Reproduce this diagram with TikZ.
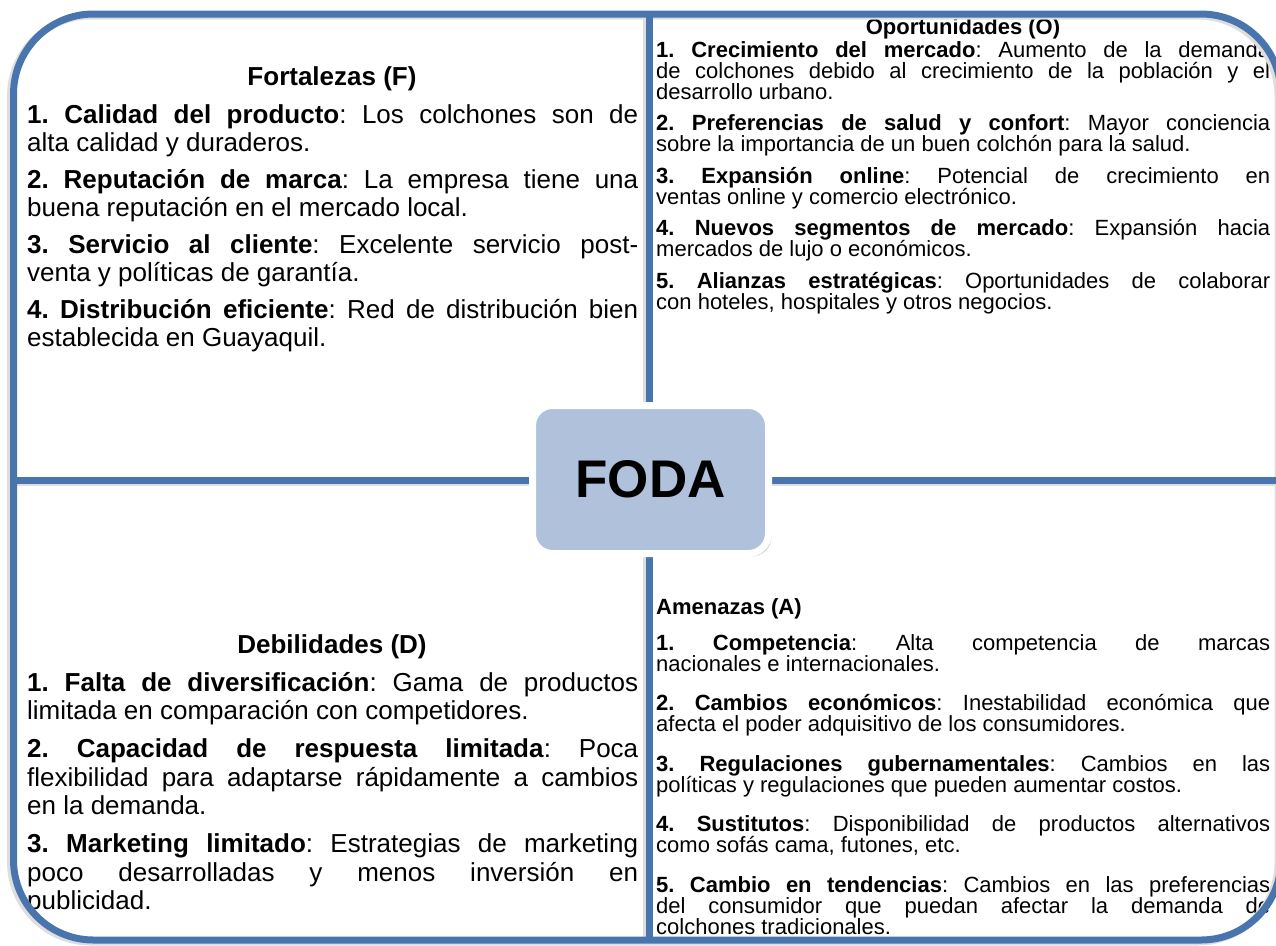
\documentclass[tikz,border=0pt]{standalone}
\usepackage{fontspec}
\setmainfont{Liberation Sans}
\usetikzlibrary{shadows}
\definecolor{fodaline}{RGB}{72,117,173}
\definecolor{fodafill}{RGB}{176,193,220}
\newcommand{\fodapar}[1]{\frenchspacing\tolerance=10000 \hyphenpenalty=10000 \parskip=#1pt\relax}
\tikzset{
	frame/.style={draw=fodaline, line width=7pt},
	frameshadow/.style={draw=black!13, line width=7pt, xshift=-3pt, yshift=-2pt},
	bigtext/.style={anchor=base west, inner sep=0pt, text width=611pt, align=justify, font=\fontsize{26}{28.5}\selectfont},
	smalltext/.style={anchor=base west, inner sep=0pt, text width=614pt, align=justify, font=\fontsize{22}{21}\selectfont},
	bigtitle/.style={anchor=base, inner sep=0pt, font=\fontsize{26}{28.5}\selectfont\bfseries},
	smalltitle/.style={inner sep=0pt, font=\fontsize{22}{21}\selectfont\bfseries},
	fodabox/.style={rounded corners=20pt, fill=fodafill, draw=white, line width=7pt, minimum width=236pt, minimum height=148pt, inner sep=0pt, font=\fontsize{53}{60}\selectfont\bfseries, drop shadow={shadow xshift=3pt, shadow yshift=-3pt, fill=black, opacity=0.25}}
}

\begin{document}
\begin{tikzpicture}[x=1pt, y=-1pt]
	\useasboundingbox (0,0) rectangle (1276,945);
	\node[bigtitle] (fort) at (332,85) {Fortalezas (F)};
	\node[bigtext] (forttxt) at (27,123) {\fodapar{8}\textbf{1. Calidad del producto}: Los colchones son de\linebreak alta calidad y duraderos.\par
		\textbf{2. Reputación de marca}: La empresa tiene una\linebreak buena reputación en el mercado local.\par
		\textbf{3. Servicio al cliente}: Excelente servicio post-\linebreak venta y políticas de garantía.\par
		\textbf{4. Distribución eficiente}: Red de distribución bien\linebreak establecida en Guayaquil.};
	\node[smalltitle, anchor=base] (opor) at (963,34) {Oportunidades (O)};
	\node[smalltext] (oportxt) at (656,57) {\fodapar{10.5}\textbf{1. Crecimiento del mercado}: Aumento de la demanda\linebreak de colchones debido al crecimiento de la población y el\linebreak desarrollo urbano.\par
		\textbf{2. Preferencias de salud y confort}: Mayor conciencia\linebreak sobre la importancia de un buen colchón para la salud.\par
		\textbf{3. Expansión online}: Potencial de crecimiento en\linebreak ventas online y comercio electrónico.\par
		\textbf{4. Nuevos segmentos de mercado}: Expansión hacia\linebreak mercados de lujo o económicos.\par
		\textbf{5. Alianzas estratégicas}: Oportunidades de colaborar\linebreak con hoteles, hospitales y otros negocios.};
	\node[bigtitle] (debi) at (332,653) {Debilidades (D)};
	\node[bigtext] (debitxt) at (27,691) {\fodapar{9.5}\textbf{1. Falta de diversificación}: Gama de productos\linebreak limitada en comparación con competidores.\par
		\textbf{2. Capacidad de respuesta limitada}: Poca\linebreak flexibilidad para adaptarse rápidamente a cambios\linebreak en la demanda.\par
		\textbf{3. Marketing limitado}: Estrategias de marketing\linebreak poco desarrolladas y menos inversión en\linebreak publicidad.};
	\node[smalltitle, anchor=base west] (amen) at (656,614) {Amenazas (A)};
	\node[smalltext] (amentxt) at (656,650) {\fodapar{18.5}\textbf{1. Competencia}: Alta competencia de marcas\linebreak nacionales e internacionales.\par
		\textbf{2. Cambios económicos}: Inestabilidad económica que\linebreak afecta el poder adquisitivo de los consumidores.\par
		\textbf{3. Regulaciones gubernamentales}: Cambios en las\linebreak políticas y regulaciones que pueden aumentar costos.\par
		\textbf{4. Sustitutos}: Disponibilidad de productos alternativos\linebreak como sofás cama, futones, etc.\par
		\textbf{5. Cambio en tendencias}: Cambios en las preferencias\linebreak del consumidor que puedan afectar la demanda de\linebreak colchones tradicionales.};
	\draw[frameshadow, rounded corners=80pt] (13.5,14) rectangle (1281,940);
	\draw[frameshadow] (649,14) -- (649,940);
	\draw[frameshadow] (13.5,480) -- (1281,480);
	\draw[frame, rounded corners=80pt] (13.5,14) rectangle (1281,940);
	\draw[frame] (649,14) -- (649,940);
	\draw[frame] (13.5,480) -- (1281,480);
	\node[fodabox] (foda) at (650.5,479.5) {FODA};
\end{tikzpicture}
\end{document}
